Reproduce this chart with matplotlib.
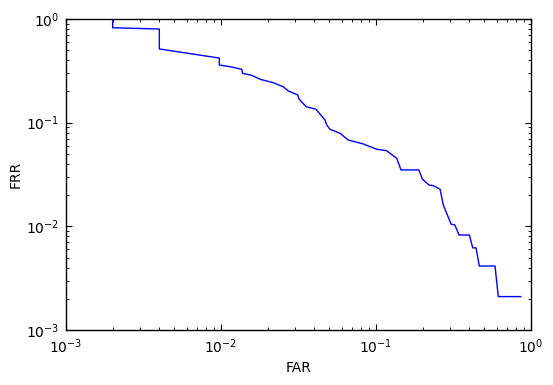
import matplotlib
matplotlib.use("Agg")
import matplotlib.pyplot as plt

# FAR / FRR curve
far = [0.002, 0.002, 0.004, 0.004, 0.00975, 0.00975, 0.0114, 0.0136, 0.0138,
       0.0158, 0.0179, 0.0217, 0.0252, 0.0272, 0.0313, 0.0319, 0.0354, 0.041,
       0.0469, 0.0481, 0.0505, 0.0586, 0.0663, 0.0828, 0.101, 0.117, 0.136,
       0.145, 0.189, 0.199, 0.22, 0.234, 0.259, 0.272, 0.305, 0.323, 0.343,
       0.40, 0.421, 0.442, 0.464, 0.586, 0.615, 0.858]
frr = [1.0, 0.824, 0.80, 0.514, 0.42, 0.36, 0.347, 0.327, 0.299,
       0.286, 0.262, 0.243, 0.222, 0.202, 0.185, 0.169, 0.1426, 0.1346,
       0.106, 0.095, 0.0863, 0.079, 0.068, 0.0623, 0.0554, 0.0537, 0.0453,
       0.035, 0.035, 0.0286, 0.025, 0.0247, 0.0228, 0.016, 0.0105, 0.0103, 0.00825,
       0.00825, 0.0062, 0.0062, 0.00414, 0.00414, 0.0021, 0.0021]

fig = plt.figure(figsize=(5.53, 3.85), dpi=100)
ax = fig.add_axes([66/553, 55/385, 465/553, 311/385])
ax.plot(far, frr, color='#0000ff', lw=1.0)
ax.set_xscale('log')
ax.set_yscale('log')
ax.set_xlim(1e-3, 1)
ax.set_ylim(1e-3, 1)
ax.set_xlabel('FAR', fontsize=10)
ax.set_ylabel('FRR', fontsize=10, labelpad=2)
ax.tick_params(which='both', direction='in', top=True, right=True, labelsize=10)
ax.tick_params(which='major', length=4.3, width=0.8, pad=5)
ax.tick_params(which='minor', length=2, width=0.6)
for s in ax.spines.values():
    s.set_linewidth(1.0)
fig.savefig('out.png', dpi=100)
